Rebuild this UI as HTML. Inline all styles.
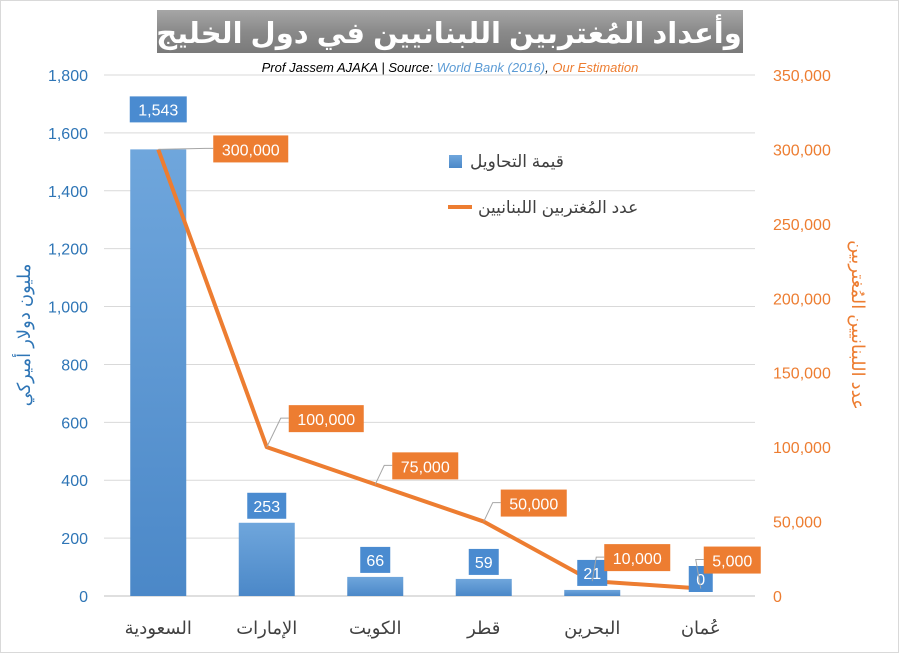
<!DOCTYPE html>
<html><head><meta charset="utf-8"><style>
body{margin:0;background:#fff;}
svg text{font-family:"Liberation Sans","Noto Sans CJK SC","DejaVu Sans",sans-serif;}
</style></head><body>
<svg width="899" height="653" viewBox="0 0 899 653" xmlns="http://www.w3.org/2000/svg">
<defs>
<linearGradient id="tg" x1="0" y1="0" x2="0" y2="1"><stop offset="0" stop-color="#a6a6a6"/><stop offset="0.5" stop-color="#8a8a8a"/><stop offset="1" stop-color="#7a7a7a"/></linearGradient>
<linearGradient id="bg" x1="0" y1="0" x2="0" y2="1"><stop offset="0" stop-color="#6fa6dc"/><stop offset="1" stop-color="#4b88c8"/></linearGradient>
</defs>
<rect x="0.5" y="0.5" width="898" height="652" fill="#fff" stroke="#d9d9d9"/>
<rect x="157" y="10" width="586" height="43" fill="url(#tg)"/>
<text x="450" y="43" text-anchor="middle" font-size="29" font-weight="bold" fill="#fff" direction="rtl">تحاويل وأعداد المُغتربين اللبنانيين في دول الخليج العربي</text>
<text x="450" y="72" text-anchor="middle" font-size="13" font-style="italic"><tspan fill="#000">Prof Jassem AJAKA  | Source: </tspan><tspan fill="#5b9bd5">World Bank (2016)</tspan><tspan fill="#000">, </tspan><tspan fill="#ed7d31">Our Estimation</tspan></text>
<g id="grid"></g><g id="bars"></g><g id="line"></g><g id="labels"></g><g id="axes"></g>
<text transform="translate(30,335) rotate(-90)" text-anchor="middle" font-size="18" fill="#2e75b6">مليون دولار أميركي</text>
<text transform="translate(852,325) rotate(90)" text-anchor="middle" font-size="18" fill="#ed7d31">عدد اللبنانيين المُغتربين</text>
<rect x="449" y="155" width="13" height="13" fill="url(#bg)"/>
<text x="470" y="167" font-size="17" fill="#404040">قيمة التحاويل</text>
<line x1="448" y1="207" x2="472" y2="207" stroke="#ed7d31" stroke-width="4"/>
<text x="478" y="213" font-size="17" fill="#404040">عدد المُغتربين اللبنانيين</text>
</svg>
<script>
const categories=["السعودية","الإمارات","الكويت","قطر","البحرين","عُمان"];
const remittances=[1543,253,66,59,21,0];
const emigrants=[300000,100000,75000,50000,10000,5000];
const leftTicks=[0,200,400,600,800,1000,1200,1400,1600,1800];
const rightTicks=[0,50000,100000,150000,200000,250000,300000,350000];
const NS="http://www.w3.org/2000/svg";
const y0=596,yTop=75,xStart=104,xEnd=755;
const yL=v=>y0-v/1800*(y0-yTop);
const yR=v=>y0-v/350000*(y0-yTop);
const bw=(xEnd-xStart)/categories.length;
const xC=i=>xStart+bw*(i+0.5);
const fmt=v=>v.toLocaleString('en-US');
function mk(t,a,p,txt){const e=document.createElementNS(NS,t);for(const k in a)e.setAttribute(k,a[k]);if(txt!==undefined)e.textContent=txt;document.getElementById(p).appendChild(e);return e;}
leftTicks.forEach(v=>{
 const g=mk('line',{x1:xStart,x2:xEnd,y1:yL(v),y2:yL(v),stroke:v===0?'#bfbfbf':'#d9d9d9'},'grid');
 
 const t=mk('text',{x:88,y:yL(v)+6,'text-anchor':'end','font-size':16,fill:'#2e75b6'},'axes',fmt(v));
 
});
rightTicks.forEach(v=>{
 const t=mk('text',{x:773,y:yR(v)+6,'font-size':16,fill:'#ed7d31'},'axes',fmt(v));
 
});
categories.forEach((c,i)=>{
 const t=mk('text',{x:xC(i),y:634,'text-anchor':'middle','font-size':18,fill:'#404040'},'axes',c);
 
 const top=yL(remittances[i]);
 const b=mk('rect',{x:xC(i)-28,y:top,width:56,height:y0-top,fill:'url(#bg)'},'bars');
 
});
const pts=emigrants.map((v,i)=>xC(i)+','+yR(v)).join(' ');
const pl=mk('polyline',{points:pts,fill:'none',stroke:'#ed7d31','stroke-width':4,'stroke-linejoin':'round'},'line');

remittances.forEach((v,i)=>{
 const s=fmt(v);const w=Math.max(24,s.length*9+12);
 const top=yL(v);const bb=i===0?top-27:top-4;
 const r=mk('rect',{x:xC(i)-w/2,y:bb-26,width:w,height:26,fill:'#4a8bd0'},'labels');
 
 const t=mk('text',{x:xC(i),y:bb-7,'text-anchor':'middle','font-size':16,fill:'#fff'},'labels',s);
 
});
const offX=[55,22,17,17,12,3], offY=[-14,-42,-32,-32,-37,-42];
emigrants.forEach((v,i)=>{
 const s=fmt(v);const w=s.length*9+12;
 const px=xC(i),py=yR(v);const bx=px+offX[i],by=py+offY[i];
 const l=mk('polyline',{points:`${px},${py} ${bx-8},${by+13} ${bx},${by+13}`,fill:'none',stroke:'#a6a6a6','stroke-width':1},'labels');
 
 const r=mk('rect',{x:bx,y:by,width:w,height:27,fill:'#ed7d31'},'labels');
 
 const t=mk('text',{x:bx+w/2,y:by+20,'text-anchor':'middle','font-size':16,fill:'#fff'},'labels',s);
 
});
</script>
</body></html>
